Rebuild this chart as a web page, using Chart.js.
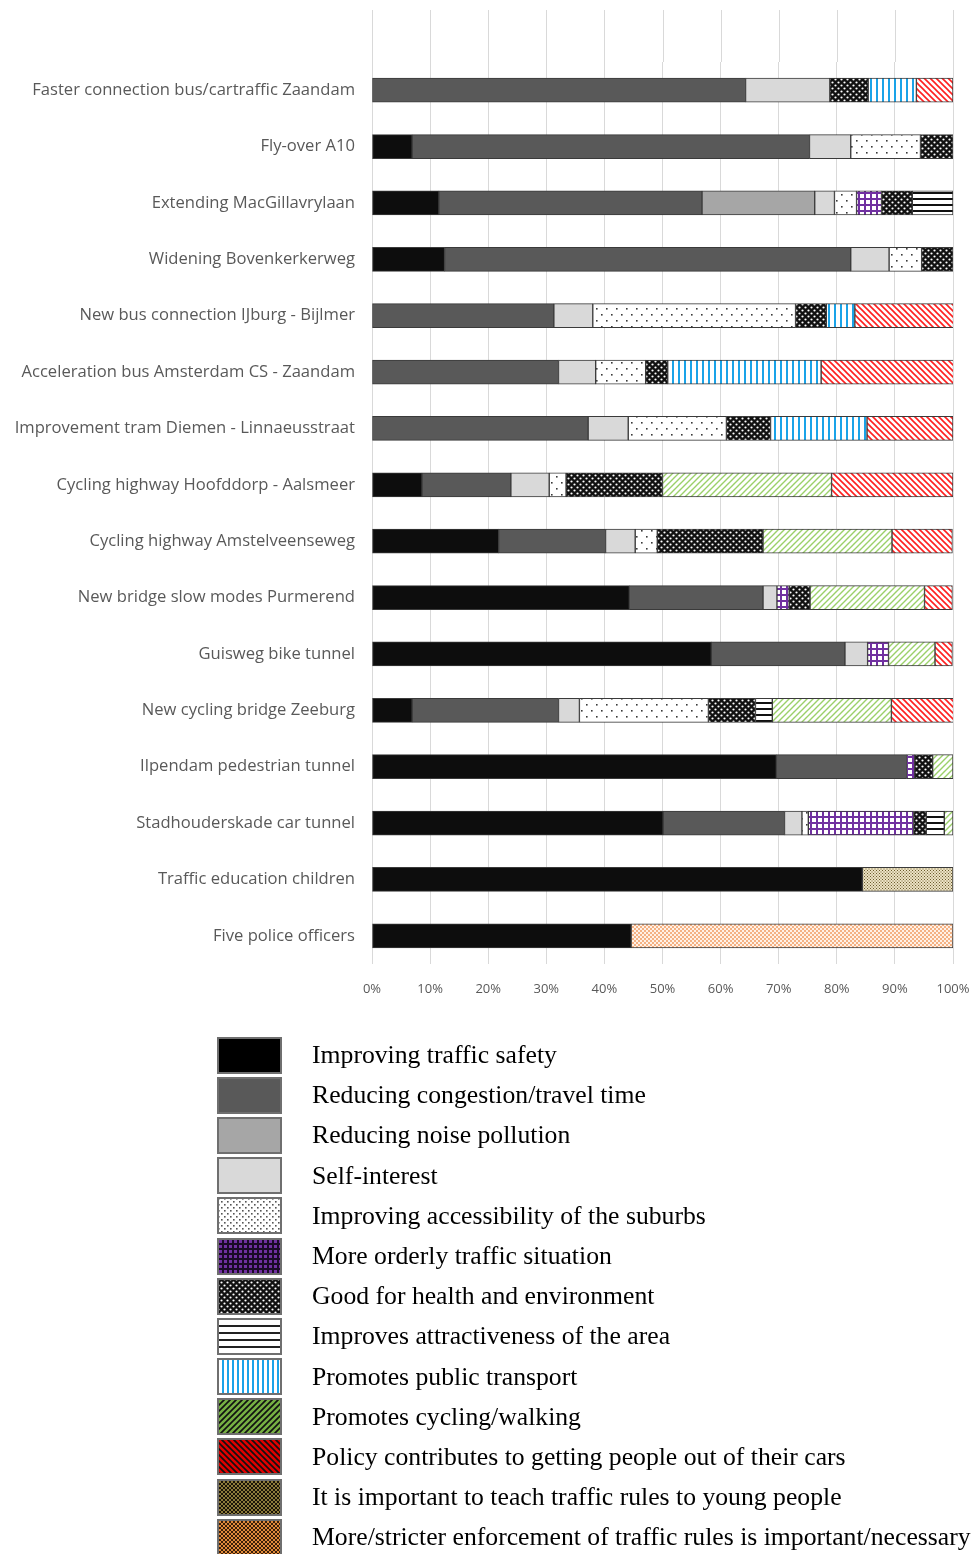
<!DOCTYPE html>
<html>
<head>
<meta charset="utf-8">
<script src="https://cdn.jsdelivr.net/npm/chart.js@4.4.1/dist/chart.umd.min.js"></script>
<style>
  html, body { margin: 0; padding: 0; background: #fff; }
  #wrap { position: relative; width: 980px; height: 1554px; }
  #chart { position: absolute; left: 0; top: 0; }
  #legend {
    position: absolute; left: 217px; top: 1035px;
    font-family: "Liberation Serif", "Times New Roman", serif;
    font-size: 25.7px; color: #000;
  }
  .item { display: flex; align-items: center; height: 40.2px; white-space: nowrap; }
  .item canvas { width: 65px; height: 37px; margin-right: 30px; }
</style>
</head>
<body>
<div id="wrap">
  <canvas id="chart" width="980" height="1010"></canvas>
  <div id="legend"></div>
</div>
<script>
// projects, top to bottom
const projects = [
  "Faster connection bus/cartraffic Zaandam",
  "Fly-over A10",
  "Extending MacGillavrylaan",
  "Widening Bovenkerkerweg",
  "New bus connection IJburg - Bijlmer",
  "Acceleration bus Amsterdam CS - Zaandam",
  "Improvement tram Diemen - Linnaeusstraat",
  "Cycling highway Hoofddorp - Aalsmeer",
  "Cycling highway Amstelveenseweg",
  "New bridge slow modes Purmerend",
  "Guisweg bike tunnel",
  "New cycling bridge Zeeburg",
  "Ilpendam pedestrian tunnel",
  "Stadhouderskade car tunnel",
  "Traffic education children",
  "Five police officers"
];

const seriesNames = [
  "Improving traffic safety",
  "Reducing congestion/travel time",
  "Reducing noise pollution",
  "Self-interest",
  "Improving accessibility of the suburbs",
  "More orderly traffic situation",
  "Good for health and environment",
  "Improves attractiveness of the area",
  "Promotes public transport",
  "Promotes cycling/walking",
  "Policy contributes to getting people out of their cars",
  "It is important to teach traffic rules to young people",
  "More/stricter enforcement of traffic rules is important/necessary"
];

// shares in %, one value per project
const safety      = [0, 6.9, 11.5, 12.5, 0, 0, 0, 8.6, 21.8, 44.3, 58.4, 6.9, 69.6, 50.1, 84.4, 44.6];
const congestion  = [64.3, 68.4, 45.3, 69.9, 31.3, 32.1, 37.2, 15.3, 18.4, 23.0, 23.0, 25.2, 22.4, 20.9, 0, 0];
const noise       = [0, 0, 19.4, 0, 0, 0, 0, 0, 0, 0, 0, 0, 0, 0, 0, 0];
const selfInt     = [14.5, 7.1, 3.4, 6.6, 6.7, 6.4, 6.9, 6.6, 5.1, 2.4, 3.9, 3.6, 0, 3.0, 0, 0];
const access      = [0, 12.0, 3.8, 5.6, 34.9, 8.6, 16.9, 2.9, 3.8, 0, 0, 22.2, 0, 1.1, 0, 0];
const orderly     = [0, 0, 4.3, 0, 0, 0, 0, 0, 0, 2.1, 3.6, 0, 1.4, 18.1, 0, 0];
const health      = [6.6, 5.6, 5.3, 5.4, 5.3, 3.8, 7.6, 16.6, 18.2, 3.6, 0, 8.1, 3.1, 2.2, 0, 0];
const attract     = [0, 0, 7.0, 0, 0, 0, 0, 0, 0, 0, 0, 2.9, 0, 3.1, 0, 0];
const publicTr    = [8.3, 0, 0, 0, 4.9, 26.4, 16.6, 0, 0, 0, 0, 0, 0, 0, 0, 0];
const cycling     = [0, 0, 0, 0, 0, 0, 0, 29.1, 22.2, 19.7, 8.0, 20.5, 3.5, 1.5, 0, 0];
const policy      = [6.3, 0, 0, 0, 17.0, 22.8, 14.8, 20.9, 10.4, 4.8, 3.0, 10.7, 0, 0, 0, 0];
const teach       = [0, 0, 0, 0, 0, 0, 0, 0, 0, 0, 0, 0, 0, 0, 15.6, 0];
const enforce     = [0, 0, 0, 0, 0, 0, 0, 0, 0, 0, 0, 0, 0, 0, 0, 55.4];

const xTicks = [0, 10, 20, 30, 40, 50, 60, 70, 80, 90, 100];

// ---- fills ----
function tile(w, h, draw) {
  const c = document.createElement("canvas");
  c.width = w; c.height = h;
  draw(c.getContext("2d"), w, h);
  return c;
}
function pat(w, h, draw) {
  return document.createElement("canvas").getContext("2d")
    .createPattern(tile(w, h, draw), "repeat");
}
function solid(col) { return () => col; }
function dots(bg, fg, w, h, pts) {
  return () => pat(w, h, (g) => {
    g.fillStyle = bg; g.fillRect(0, 0, w, h);
    g.fillStyle = fg;
    pts.forEach(([x, y, s]) => g.fillRect(x, y, s, s));
  });
}
function grid(bg, fg, n, cell) {
  return () => pat(n, n, (g) => {
    g.fillStyle = fg; g.fillRect(0, 0, n, n);
    g.fillStyle = bg; g.fillRect(n - cell, n - cell, cell, cell);
  });
}
function hLines(bg, fg, n, lw) {
  return () => pat(4, n, (g) => {
    g.fillStyle = bg; g.fillRect(0, 0, 4, n);
    g.fillStyle = fg; g.fillRect(0, 0, 4, lw);
  });
}
function vLines(bg, fg, n, lw) {
  return () => pat(n, 4, (g) => {
    g.fillStyle = bg; g.fillRect(0, 0, n, 4);
    g.fillStyle = fg; g.fillRect(0, 0, lw, 4);
  });
}
function diag(bg, fg, n, lw, up) {
  return () => pat(n, n, (g) => {
    g.fillStyle = bg; g.fillRect(0, 0, n, n);
    g.strokeStyle = fg; g.lineWidth = lw;
    g.beginPath();
    if (up) {
      g.moveTo(-1, n + 1); g.lineTo(n + 1, -1);
      g.moveTo(-1, 1); g.lineTo(1, -1);
      g.moveTo(n - 1, n + 1); g.lineTo(n + 1, n - 1);
    } else {
      g.moveTo(-1, -1); g.lineTo(n + 1, n + 1);
      g.moveTo(n - 1, -1); g.lineTo(n + 1, 1);
      g.moveTo(-1, n - 1); g.lineTo(1, n + 1);
    }
    g.stroke();
  });
}
function checker(a, b, s) {
  return () => pat(2 * s, 2 * s, (g) => {
    g.fillStyle = a; g.fillRect(0, 0, 2 * s, 2 * s);
    g.fillStyle = b; g.fillRect(0, 0, s, s); g.fillRect(s, s, s, s);
  });
}
function healthDots(bg, fg) {
  return () => pat(6, 6, (g) => {
    g.fillStyle = bg; g.fillRect(0, 0, 6, 6);
    g.fillStyle = fg;
    g.beginPath(); g.arc(1.5, 1.5, 1.1, 0, 7); g.fill();
    g.beginPath(); g.arc(4.5, 4.5, 1.1, 0, 7); g.fill();
  });
}

const values = [safety, congestion, noise, selfInt, access, orderly, health,
  attract, publicTr, cycling, policy, teach, enforce];

const barFills = [
  solid("#0d0d0d"),
  solid("#595959"),
  solid("#a6a6a6"),
  solid("#d9d9d9"),
  dots("#ffffff", "#3a3a3a", 10, 12, [[1, 2, 1.6], [6, 8, 1.6]]),
  grid("#ffffff", "#7030a0", 6, 4),
  healthDots("#111111", "#ffffff"),
  hLines("#ffffff", "#111111", 6, 2),
  vLines("#ffffff", "#1aa3e8", 6, 2),
  diag("#ffffff", "#9bd06a", 6, 1.4, true),
  diag("#ffffff", "#ff2020", 6, 1.6, false),
  dots("#ece3c4", "#6b5a2a", 3, 3, [[0, 0, 1], [1.5, 1.5, 1]]),
  checker("#f4b183", "#fff1e6", 2)
];

const legendFills = [
  solid("#000000"),
  solid("#595959"),
  solid("#a6a6a6"),
  solid("#d9d9d9"),
  dots("#ffffff", "#555555", 6, 6, [[1, 1, 1.6], [4, 4, 1.6]]),
  grid("#7030a0", "#1a0a26", 5, 3),
  healthDots("#111111", "#ffffff"),
  hLines("#ffffff", "#222222", 7, 2),
  vLines("#ffffff", "#1aa3e8", 5, 2),
  diag("#111111", "#76b043", 6, 2.6, true),
  diag("#111111", "#e00000", 6, 2.6, false),
  checker("#1a1408", "#8c7a3a", 2),
  checker("#3a1e08", "#e08a3a", 2)
];

const datasets = seriesNames.map((name, i) => ({
  label: name,
  data: values[i].map((v) => (v > 0 ? v : null)),
  backgroundColor: barFills[i](),
  borderColor: "#3a3a3a",
  borderWidth: 1,
  borderSkipped: false,
  barThickness: 24
}));

// vertical gridlines continue above the first bar
const topGrid = {
  id: "topGrid",
  beforeDatasetsDraw(chart) {
    const { ctx, chartArea } = chart;
    const x = chart.scales.x;
    ctx.save();
    ctx.strokeStyle = "#d9d9d9";
    ctx.lineWidth = 1;
    x.ticks.forEach((t) => {
      const px = Math.round(x.getPixelForValue(t.value)) + 0.5;
      ctx.beginPath();
      ctx.moveTo(px, 10);
      ctx.lineTo(px, chartArea.top);
      ctx.stroke();
    });
    ctx.restore();
  }
};

// eslint-disable-next-line no-new
new Chart(document.getElementById("chart"), {
  type: "bar",
  data: { labels: projects, datasets },
  plugins: [topGrid],
  options: {
    indexAxis: "y",
    responsive: false,
    animation: false,
    devicePixelRatio: 1,
    layout: { padding: { top: 62, right: 27, bottom: 13, left: 0 } },
    plugins: { legend: { display: false }, tooltip: { enabled: false } },
    scales: {
      x: {
        stacked: true,
        min: 0,
        max: 100,
        afterBuildTicks: (s) => { s.ticks = xTicks.map((v) => ({ value: v })); },
        afterFit: (s) => { s.height = 33; s.paddingLeft = 0; s.paddingRight = 0; },
        grid: { color: "#d9d9d9", drawTicks: false },
        border: { display: false },
        ticks: {
          padding: 17,
          color: "#595959",
          font: { family: "'Open Sans'", size: 13 },
          callback: (v) => v + "%"
        }
      },
      y: {
        stacked: true,
        afterFit: (s) => { s.width = 372; },
        grid: { display: false, drawTicks: false },
        border: { display: false },
        ticks: {
          padding: 17,
          color: "#595959",
          font: { family: "'Open Sans'", size: 16.6 }
        }
      }
    }
  }
});

// legend
const legend = document.getElementById("legend");
seriesNames.forEach((name, i) => {
  const row = document.createElement("div");
  row.className = "item";
  const sw = document.createElement("canvas");
  sw.width = 65; sw.height = 37;
  const g = sw.getContext("2d");
  g.fillStyle = legendFills[i]();
  g.fillRect(1, 1, 63, 35);
  g.strokeStyle = "#6f6f6f";
  g.lineWidth = 2;
  g.strokeRect(1, 1, 63, 35);
  const span = document.createElement("span");
  span.textContent = name;
  row.appendChild(sw);
  row.appendChild(span);
  legend.appendChild(row);
});
</script>
</body>
</html>
